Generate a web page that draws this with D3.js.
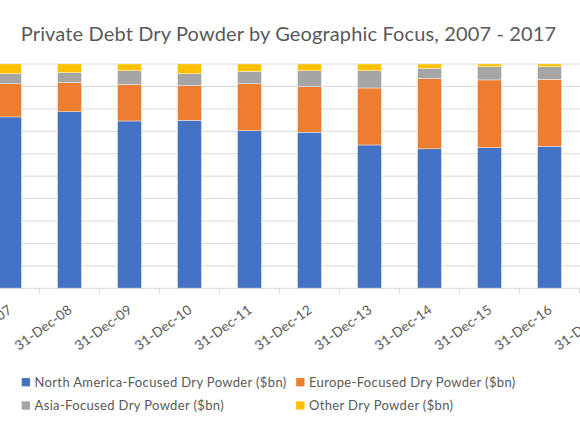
<!DOCTYPE html>
<html><head><meta charset="utf-8">
<script src="https://cdn.jsdelivr.net/npm/d3@7"></script>
<style>html,body{margin:0;padding:0;background:#fff;overflow:hidden}text{font-family:Lato,"Open Sans",sans-serif}</style>
</head><body><svg id="c" width="580" height="435"></svg>
<script>
const years = ["31-Dec-07","31-Dec-08","31-Dec-09","31-Dec-10","31-Dec-11","31-Dec-12","31-Dec-13","31-Dec-14","31-Dec-15","31-Dec-16","31-Dec-17"];
// shares of total dry powder (%)
const northAmerica = [76.4,78.7,74.6,74.9,70.3,69.6,63.9,62.1,62.7,63.3,62.5];
const europe       = [14.8,13.1,16.2,15.4,21.0,20.3,25.4,31.3,30.2,29.9,30.5];
const asia         = [4.5,4.3,6.2,5.4,5.5,7.1,7.7,4.6,5.9,5.6,5.6];
const other        = [4.3,3.9,3.0,4.3,3.3,3.0,3.0,1.9,1.2,1.2,1.4];
const seriesNames = ["North America-Focused Dry Powder ($bn)","Europe-Focused Dry Powder ($bn)","Asia-Focused Dry Powder ($bn)","Other Dry Powder ($bn)"];
const colors = ["#4472C4","#ED7D31","#A5A5A5","#FFC000"];

const svg = d3.select("#c");
const plotTop = 64, plotBottom = 288.3;
const keys = ["na","eu","as","ot"];
const rows = years.map((yr,i)=>({year:yr,na:northAmerica[i],eu:europe[i],as:asia[i],ot:other[i]}));
const stack = d3.stack().keys(keys).offset(d3.stackOffsetExpand)(rows);

const x = d3.scaleBand().domain(years).range([-20.5,639.5]).paddingInner(0.6).paddingOuter(0.3);
const y = d3.scaleLinear().domain([0,1]).range([plotBottom,plotTop]);

svg.append("text").attr("x",288.5).attr("y",40.5).attr("text-anchor","middle")
  .attr("font-size",20).attr("letter-spacing",0.14).attr("fill","#595959")
  .text("Private Debt Dry Powder by Geographic Focus, 2007 - 2017");

// gridlines
svg.append("g").selectAll("line").data(y.ticks(10).filter(t=>t>0)).join("line")
  .attr("x1",0).attr("x2",580).attr("y1",d=>y(d)).attr("y2",d=>y(d))
  .attr("stroke","#D9D9D9").attr("stroke-width",1);

// bars
svg.append("g").selectAll("g").data(stack).join("g").attr("fill",(d,i)=>colors[i])
  .selectAll("rect").data(d=>d).join("rect")
  .attr("x",d=>x(d.data.year)).attr("width",x.bandwidth())
  .attr("y",d=>y(d[1])).attr("height",d=>y(d[0])-y(d[1]))
  .attr("stroke","#fff").attr("stroke-width",0.4);

// x axis
const step = x.step(), off = (step - x.bandwidth())/2;
svg.append("line").attr("x1",0).attr("x2",580).attr("y1",plotBottom).attr("y2",plotBottom).attr("stroke","#D9D9D9").attr("stroke-width",1);
svg.append("g").selectAll("line").data(years.slice(1)).join("line")
  .attr("x1",d=>x(d)-off).attr("x2",d=>x(d)-off).attr("y1",plotBottom).attr("y2",plotBottom+5)
  .attr("stroke","#D9D9D9").attr("stroke-width",1);
svg.append("g").selectAll("text").data(years).join("text")
  .attr("transform",d=>`translate(${x(d)+x.bandwidth()/2+3.5},${plotBottom+23.5}) rotate(-36)`)
  .attr("text-anchor","end").attr("font-size",13.5).attr("letter-spacing",0.2).attr("fill","#595959").text(d=>d);

// legend
const lg = svg.append("g").selectAll("g").data(seriesNames).join("g")
  .attr("transform",(d,i)=>`translate(${21.7 + (i%2)*274.5},${382.2 + Math.floor(i/2)*23.3})`);
lg.append("rect").attr("x",0).attr("y",-4.15).attr("width",8.3).attr("height",8.3).attr("fill",(d,i)=>colors[i]);
lg.append("text").attr("x",12.8).attr("y",0).attr("dy","0.35em").attr("font-size",13).attr("letter-spacing",0.35).attr("fill","#595959").text(d=>d);
</script></body></html>
